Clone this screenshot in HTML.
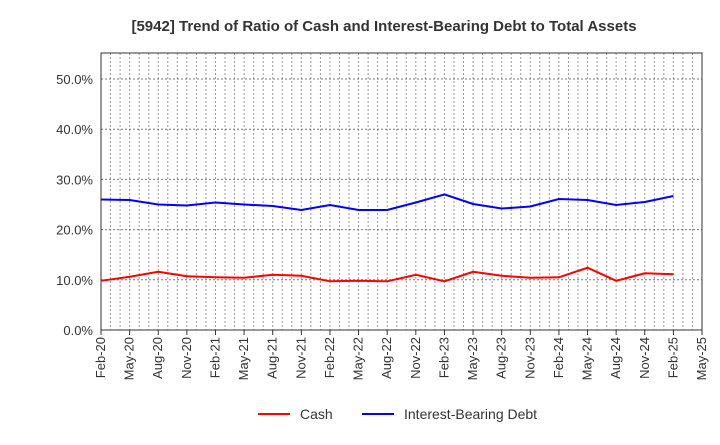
<!DOCTYPE html>
<html><head><meta charset="utf-8"><style>
body{margin:0;background:#fff;font-family:"Liberation Sans",sans-serif;}
svg text{font-family:"Liberation Sans",sans-serif;}
</style></head><body>
<svg id="c" width="720" height="440" xmlns="http://www.w3.org/2000/svg">
<text x="384" y="31" text-anchor="middle" font-size="15" font-weight="bold" fill="#333">[5942]  Trend of Ratio of Cash and Interest-Bearing Debt to Total Assets</text>
<g id="grid"></g><g id="axes"></g><g id="series"></g>
<g>
<line x1="258" y1="414" x2="290" y2="414" stroke="#f00" stroke-width="2"/>
<text x="300" y="419" font-size="14" fill="#333">Cash</text>
<line x1="362" y1="414" x2="394" y2="414" stroke="#00f" stroke-width="2"/>
<text x="404" y="419" font-size="14" fill="#333">Interest-Bearing Debt</text>
</g>
</svg>
<script>
const categories=["Feb-20","May-20","Aug-20","Nov-20","Feb-21","May-21","Aug-21","Nov-21","Feb-22","May-22","Aug-22","Nov-22","Feb-23","May-23","Aug-23","Nov-23","Feb-24","May-24","Aug-24","Nov-24","Feb-25","May-25"];
const cash=[9.8,10.6,11.6,10.7,10.5,10.4,11.0,10.8,9.7,9.8,9.7,11.0,9.7,11.6,10.8,10.4,10.5,12.4,9.8,11.3,11.1];
const debt=[26.0,25.9,25.0,24.8,25.4,25.0,24.7,23.9,24.9,23.9,23.9,25.4,27.0,25.1,24.2,24.6,26.1,25.9,24.9,25.5,26.7];
const yTicks=[0,10,20,30,40,50];
const L=101,R=702,T=53,B=330;
const x=i=>L+(R-L)*i/(categories.length-1);
const y=v=>B-(B-79)*v/50;
const ns="http://www.w3.org/2000/svg";
function mk(tag,attrs,parent){const e=document.createElementNS(ns,tag);for(const k in attrs)e.setAttribute(k,attrs[k]);document.getElementById(parent).appendChild(e);return e;}
const nm=(categories.length-1)*3;
for(let m=1;m<nm;m++){const xx=L+(R-L)*m/nm;
const g=mk('line',{x1:xx,x2:xx,y1:T,y2:B,stroke:'#999','stroke-dasharray':'2,2','stroke-width':1},'grid');

}
yTicks.forEach(t=>{if(t>0){const g=mk('line',{x1:L,x2:R,y1:y(t),y2:y(t),stroke:'#777','stroke-dasharray':'2,2','stroke-width':1},'grid');

}
const tx=mk('text',{x:L-8,y:y(t)+5,'text-anchor':'end','font-size':13,fill:'#333'},'axes');tx.textContent=t.toFixed(1)+'%';

});
const fr=mk('rect',{x:L,y:T,width:R-L,height:B-T,fill:'none',stroke:'#333','stroke-width':1},'axes');


categories.forEach((c,i)=>{const tk=mk('line',{x1:x(i),x2:x(i),y1:B,y2:B+5,stroke:'#333'},'axes');


const tx=mk('text',{x:x(i)+4,y:B+7,'text-anchor':'end','font-size':13,fill:'#333',transform:`rotate(-90 ${x(i)+4} ${B+7})`},'axes');tx.textContent=c;

});
[[cash,'#f00','cash-line'],[debt,'#00f','debt-line']].forEach(([d,col,n])=>{
const p=mk('polyline',{points:d.map((v,i)=>x(i)+','+y(v)).join(' '),fill:'none',stroke:col,'stroke-width':2},'series');

});
</script>
</body></html>
